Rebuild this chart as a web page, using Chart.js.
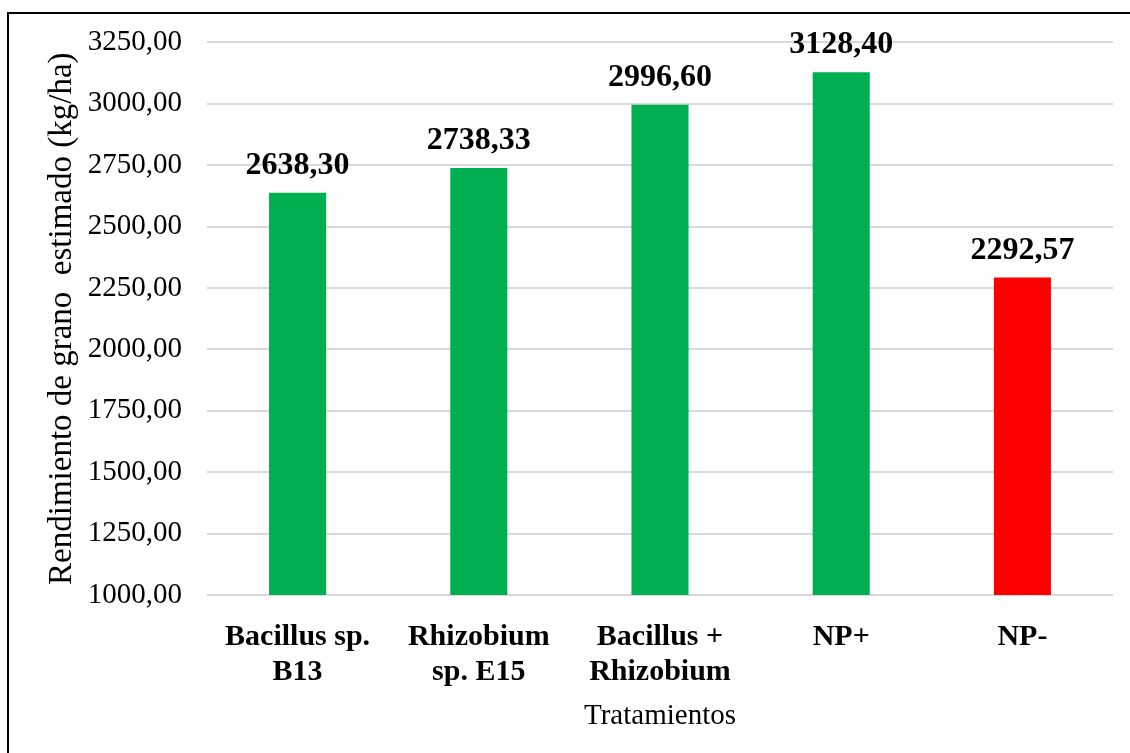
<!DOCTYPE html>
<html>
<head>
<meta charset="utf-8">
<script src="https://cdn.jsdelivr.net/npm/chart.js@4/dist/chart.umd.min.js"></script>
<style>
  html, body { margin: 0; padding: 0; background: #fff; }
  #wrap { width: 1130px; height: 753px; position: relative; }
</style>
</head>
<body>
<div id="wrap"><canvas id="myChart" width="1130" height="753"></canvas></div>
<script>
const categories = [['Bacillus sp.', 'B13'], ['Rhizobium', 'sp. E15'], ['Bacillus +', 'Rhizobium'], 'NP+', 'NP-']
const yields = [2638.30, 2738.33, 2996.60, 3128.40, 2292.57]
const barColors = ['#00B050', '#00B050', '#00B050', '#00B050', '#FF0000']
const yTicks = { min: 1000, max: 3250, step: 250 }

const serif = '"Liberation Serif", "Times New Roman", serif'
const fmt = v => v.toFixed(2).replace('.', ',')

// white background + black frame (top and left only, like the source figure)
const framePlugin = {
  id: 'frame',
  beforeDraw(chart) {
    const ctx = chart.ctx
    ctx.save()
    ctx.fillStyle = '#fff'
    ctx.fillRect(0, 0, chart.width, chart.height)
    ctx.strokeStyle = '#000'
    ctx.lineWidth = 2
    ctx.beginPath()
    ctx.moveTo(8, chart.height)
    ctx.lineTo(8, 13)
    ctx.lineTo(chart.width, 13)
    ctx.stroke()
    ctx.restore()
  }
}

// values above each bar
const valueLabels = {
  id: 'valueLabels',
  afterDatasetsDraw(chart) {
    const ctx = chart.ctx
    const meta = chart.getDatasetMeta(0)
    ctx.save()
    ctx.font = 'bold 32px ' + serif
    ctx.fillStyle = '#000'
    ctx.textAlign = 'center'
    ctx.textBaseline = 'alphabetic'
    meta.data.forEach((bar, i) => {
      ctx.fillText(fmt(yields[i]), bar.x, bar.y - 19)
    })
    ctx.restore()
  }
}

const ctx = document.getElementById('myChart')
new Chart(ctx, {
  type: 'bar',
  data: {
    labels: categories,
    datasets: [{
      label: '',
      data: yields,
      backgroundColor: barColors,
      barPercentage: 0.315,
      categoryPercentage: 1
    }]
  },
  options: {
    responsive: false,
    animation: false,
    layout: { padding: { top: 42, right: 17, bottom: 0, left: 0 } },
    plugins: {
      legend: { display: false },
      tooltip: { enabled: false }
    },
    scales: {
      x: {
        grid: { display: false },
        border: { display: false },
        ticks: {
          color: '#000',
          padding: 17,
          maxRotation: 0,
          autoSkip: false,
          font: { family: serif, size: 30, weight: 'bold', lineHeight: 1.17 }
        },
        title: {
          display: true,
          text: 'Tratamientos',
          color: '#000',
          font: { family: serif, size: 29, lineHeight: 1.2 },
          padding: { top: 0, bottom: 19 }
        },
        afterFit(scale) { scale.height = 158 }
      },
      y: {
        min: yTicks.min,
        max: yTicks.max,
        grid: { color: '#D9D9D9', lineWidth: 2, drawTicks: false },
        border: { display: false },
        ticks: {
          stepSize: yTicks.step,
          color: '#000',
          padding: 25,
          font: { family: serif, size: 29 },
          callback: v => fmt(v)
        },
        title: {
          display: true,
          text: 'Rendimiento de grano  estimado (kg/ha)',
          color: '#000',
          font: { family: serif, size: 33, lineHeight: 1.2 },
          padding: { top: 43, bottom: 0 }
        },
        afterFit(scale) { scale.width = 207 }
      }
    }
  },
  plugins: [framePlugin, valueLabels]
})
</script>
</body>
</html>
